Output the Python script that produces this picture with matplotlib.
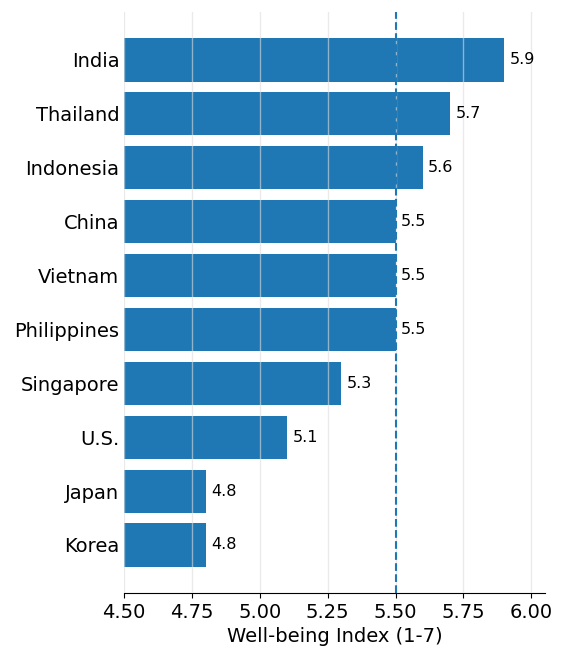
import matplotlib
matplotlib.use('Agg')
import matplotlib.pyplot as plt

countries = ['India', 'Thailand', 'Indonesia', 'China', 'Vietnam',
             'Philippines', 'Singapore', 'U.S.', 'Japan', 'Korea']
scores = [5.9, 5.7, 5.6, 5.5, 5.5, 5.5, 5.3, 5.1, 4.8, 4.8]
reference = 5.5

fig, ax = plt.subplots(figsize=(5.67, 6.67), dpi=100)
fig.subplots_adjust(left=0.219, right=0.961, top=0.982, bottom=0.111)

ypos = list(range(len(countries)))[::-1]
bars = ax.barh(ypos, [s - 4.5 for s in scores], left=4.5, height=0.8, color='#1f77b4', zorder=1)
for y, s in zip(ypos, scores):
    ax.text(s + 0.02, y, f'{s:.1f}', va='center', ha='left', fontsize=11.5)

ax.axvline(reference, color='#1f77b4', linestyle='--', linewidth=1.5, zorder=3)
ax.set_yticks(ypos)
ax.set_yticklabels(countries)
ax.set_xlim(4.5, 6.05)
ax.set_xticks([4.5, 4.75, 5.0, 5.25, 5.5, 5.75, 6.0])
ax.set_xticklabels(['4.50', '4.75', '5.00', '5.25', '5.50', '5.75', '6.00'])
ax.tick_params(axis='both', labelsize=14)
ax.tick_params(axis='y', length=0)
ax.grid(axis='x', color='#dddddd', alpha=0.6, linewidth=1, zorder=2)
ax.set_axisbelow(False)
for side in ['top', 'right', 'left']:
    ax.spines[side].set_visible(False)
ax.set_xlabel('Well-being Index (1-7)', fontsize=14)

fig.savefig('out.png')
